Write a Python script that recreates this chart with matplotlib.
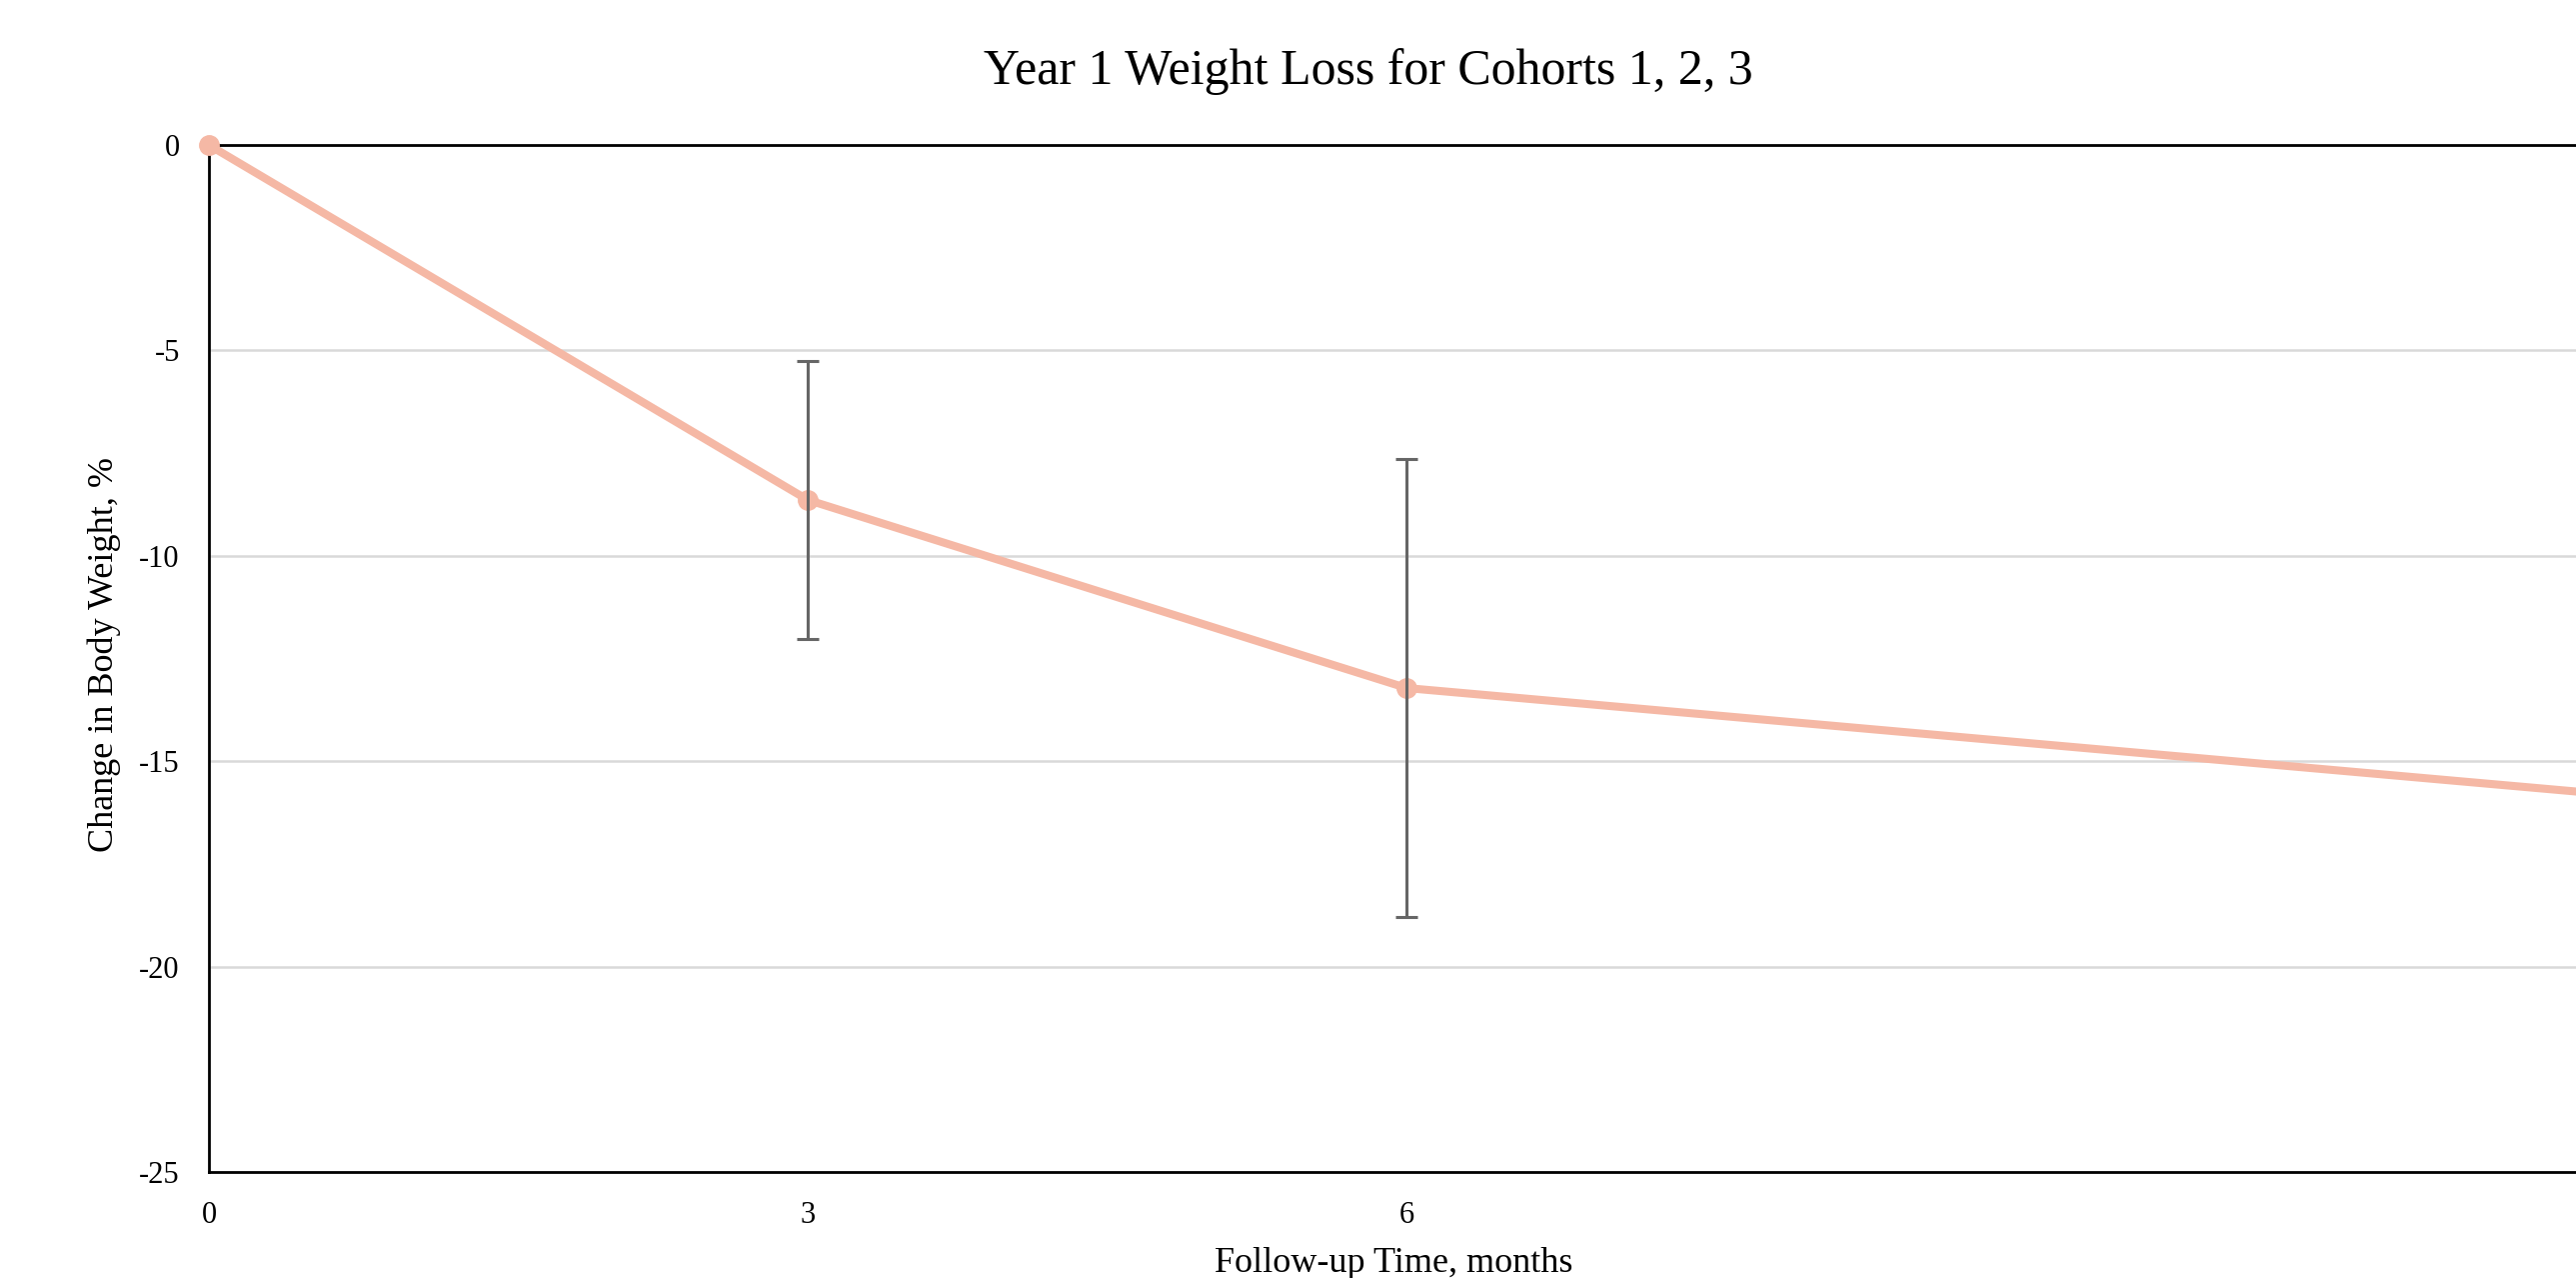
import matplotlib
matplotlib.use("Agg")
import matplotlib.pyplot as plt

# data
months = [0, 3, 6, 12]
change = [0.0, -8.64, -13.22, -15.8]
err_months = [3, 6]
err_vals = [-8.64, -13.22]
err_size = [3.38, 5.58]
xtick_vals = [0, 3, 6]
ytick_vals = [0, -5, -10, -15, -20, -25]

plt.rcParams['font.family'] = ['Liberation Serif', 'DejaVu Serif']
plt.rcParams['axes.unicode_minus'] = False

fig = plt.figure(figsize=(25.77, 12.78), dpi=100)
ax = fig.add_axes([0.0811, 0.083, 0.930, 0.8035])

ax.plot(months, change, color='#F5B8A5', lw=5.8, marker='o', ms=14,
        solid_capstyle='round', zorder=3, clip_on=False)
ax.errorbar(err_months, err_vals, yerr=err_size, fmt='none', ecolor='#666666',
            elinewidth=2.2, capsize=8, capthick=2.2, zorder=4)

ax.set_xlim(0, 12)
ax.set_ylim(-25, 0)
ax.set_yticks(ytick_vals)
ax.set_xticks(xtick_vals)
ax.tick_params(length=0, labelsize=22, pad=21)

ax.grid(axis='y', color='#d9d9d9', lw=1.8)
ax.set_axisbelow(True)
for s in ['left', 'bottom', 'top']:
    ax.spines[s].set_color('black')
    ax.spines[s].set_linewidth(2)
ax.spines['right'].set_visible(False)

fig.text(0.531, 0.944, 'Year 1 Weight Loss for Cohorts 1, 2, 3', fontsize=36,
         ha='center', va='center')
fig.text(0.541, 0.011, 'Follow-up Time, months', fontsize=26, ha='center', va='center')
fig.text(0.0404, 0.488, 'Change in Body Weight, %', fontsize=26, ha='center',
         va='center', rotation=90)

fig.savefig('out.png', dpi=100)
